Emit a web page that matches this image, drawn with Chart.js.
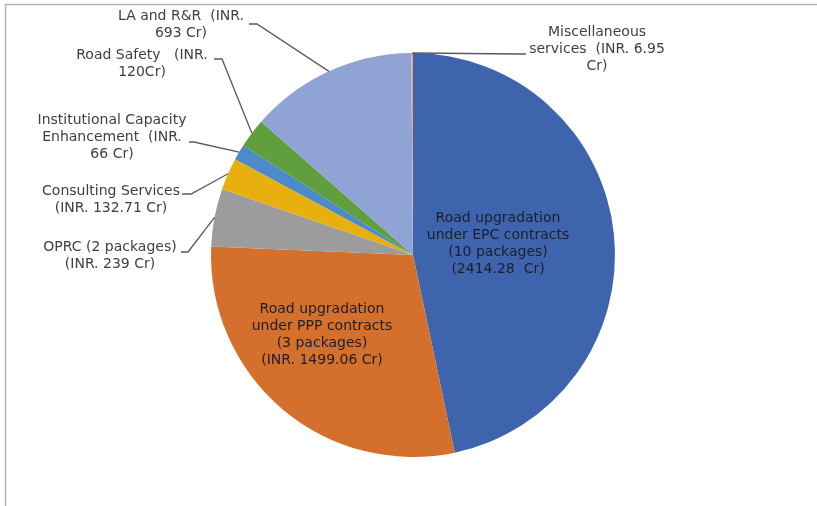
<!DOCTYPE html>
<html>
<head>
<meta charset="utf-8">
<script src="https://cdn.jsdelivr.net/npm/chart.js@4.4.1/dist/chart.umd.min.js"></script>
<style>
  html, body { margin: 0; padding: 0; background: #fff; }
  #wrap { position: relative; width: 817px; height: 506px; }
</style>
</head>
<body>
<div id="wrap"><canvas id="pieChart" width="817" height="506"></canvas></div>
<script>
// Chart data
const categories = [
    'Road upgradation under EPC contracts',
    'Road upgradation under PPP contracts',
    'OPRC',
    'Consulting Services',
    'Institutional Capacity Enhancement',
    'Road Safety',
    'LA and R&R',
    'Miscellaneous services'
];
const amounts = [2414.28, 1499.06, 239, 132.71, 66, 120, 693, 6.95];
const labelLines = [
    ['Road upgradation', 'under EPC contracts', '(10 packages)', '(2414.28  Cr)'],
    ['Road upgradation', 'under PPP contracts', '(3 packages)', '(INR. 1499.06 Cr)'],
    ['OPRC (2 packages)', '(INR. 239 Cr)'],
    ['Consulting Services', '(INR. 132.71 Cr)'],
    ['Institutional Capacity', 'Enhancement  (INR.', '66 Cr)'],
    ['Road Safety   (INR.', '120Cr)'],
    ['LA and R&R  (INR.', '693 Cr)'],
    ['Miscellaneous', 'services  (INR. 6.95', 'Cr)']
];
const sliceColors = ['#3D64AD', '#D4702B', '#9C9C9C', '#E8B00E', '#4D8ACA', '#609E3E', '#8FA3D5', '#EBA07F'];

// Label placement: [centre x, first line y]; null hook means label sits inside the slice
const labelPos = [[498, 218], [322, 309], [110, 247], [111, 191], [112, 120], [142, 55], [181, 16], [597, 32]];
const labelHook = [null, null, [181, 252, 188], [182, 194, 191], [189, 142, 194], [214, 59, 222], [249, 24, 257], [526, 54, 520]];

// Plugin: frame lines, labels and leader lines
const labelPlugin = {
    id: 'sliceLabels',
    afterDatasetsDraw(chart) {
        const ctx = chart.ctx;
        const arcs = chart.getDatasetMeta(0).data;
        ctx.save();

        // frame
        ctx.strokeStyle = '#B4B4B4';
        ctx.lineWidth = 1.5;
        ctx.beginPath();
        ctx.moveTo(817, 4.5);
        ctx.lineTo(5.5, 4.5);
        ctx.lineTo(5.5, 506);
        ctx.stroke();

        ctx.font = '14px "DejaVu Sans", Verdana, sans-serif';
        ctx.textAlign = 'center';
        ctx.textBaseline = 'middle';

        arcs.forEach((arc, i) => {
            const [cx, cy] = labelPos[i];
            const hook = labelHook[i];
            ctx.fillStyle = hook ? '#404040' : '#1E1E2A';
            labelLines[i].forEach((line, j) => {
                ctx.fillText(line, cx, cy + j * 17);
            });
            if (hook) {
                const mid = (arc.startAngle + arc.endAngle) / 2;
                const px = arc.x + Math.cos(mid) * arc.outerRadius;
                const py = arc.y + Math.sin(mid) * arc.outerRadius;
                ctx.strokeStyle = '#5A5A5A';
                ctx.lineWidth = 1.3;
                ctx.beginPath();
                ctx.moveTo(hook[0], hook[1]);
                ctx.lineTo(hook[2], hook[1]);
                ctx.lineTo(px, py);
                ctx.stroke();
            }
        });
        ctx.restore();
    }
};

new Chart(document.getElementById('pieChart').getContext('2d'), {
    type: 'pie',
    data: {
        labels: categories,
        datasets: [{
            data: amounts,
            backgroundColor: sliceColors,
            borderWidth: 0
        }]
    },
    options: {
        responsive: false,
        animation: false,
        layout: { padding: { left: 9, right: 0, top: 53, bottom: 49 } },
        plugins: {
            legend: { display: false },
            tooltip: { enabled: false }
        }
    },
    plugins: [labelPlugin]
});
</script>
</body>
</html>
